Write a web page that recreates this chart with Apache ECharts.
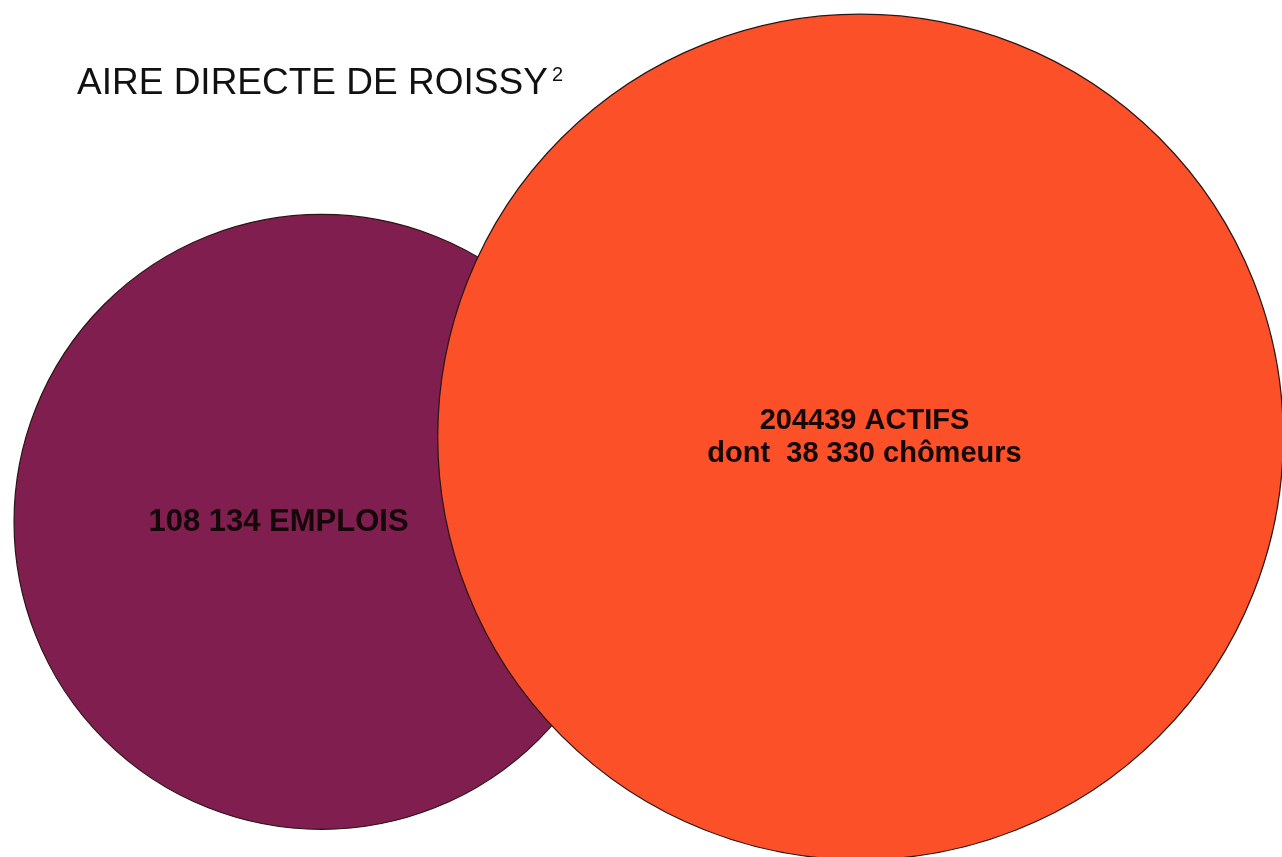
<!DOCTYPE html>
<html>
<head>
<meta charset="utf-8">
<title>Aire directe de Roissy</title>
<script src="https://cdn.jsdelivr.net/npm/echarts@6/dist/echarts.min.js"></script>
<style>
    html, body { margin: 0; padding: 0; background: #fff; }
    #circles { width: 1282px; height: 857px; }
</style>
</head>
<body>
<div id="circles"></div>
<script>
// Data
// ------------------------------

var categories = ['EMPLOIS', 'ACTIFS'];
var values = [108134, 204439];
var labels = [
    ['108 134 EMPLOIS'],
    ['204439 ACTIFS', 'dont  38 330 chômeurs']
];
var chartTitle = 'AIRE DIRECTE DE ROISSY';
var titleSup = '2';


// Layout / styles
// ------------------------------

var colors = ['#801f4f', '#fc5128'];
var radiusPerSqrt = 0.935;         // circle area proportional to value
var shiftY = [0, -85];             // vertical offset of each circle
var labelShiftX = [-43, 4];
var labelFontSize = [31, 29];


document.addEventListener('DOMContentLoaded', function() {
    var el = document.getElementById('circles');
    var chart = echarts.init(el, null, { renderer: 'canvas' });

    var seriesData = categories.map(function(c, i) {
        return [i, values[i]];
    });

    chart.setOption({
        animation: false,
        backgroundColor: '#ffffff',

        grid: {
            left: 52,
            width: 1078,
            top: 0,
            bottom: 0
        },

        xAxis: {
            type: 'category',
            data: categories,
            boundaryGap: true,
            show: false
        },
        // zero line sits at y = 522
        yAxis: {
            type: 'value',
            min: -0.642,
            max: 1,
            show: false
        },

        // Title with superscript
        graphic: [
            {
                type: 'text',
                x: 77,
                y: 65,
                z: 10,
                style: {
                    text: chartTitle,
                    font: '37px "Liberation Sans", Arial, sans-serif',
                    fill: '#111111',
                    verticalAlign: 'top'
                }
            },
            {
                type: 'text',
                x: 552,
                y: 65,
                z: 10,
                style: {
                    text: titleSup,
                    font: '20px "Liberation Sans", Arial, sans-serif',
                    fill: '#111111',
                    verticalAlign: 'top'
                }
            }
        ],

        series: [{
            type: 'custom',
            clip: false,
            data: seriesData,
            renderItem: function(params, api) {
                var i = params.dataIndex;
                var pt = api.coord([api.value(0), 0]);
                var r = radiusPerSqrt * Math.sqrt(api.value(1));
                var cx = pt[0];
                var cy = pt[1] + shiftY[i];
                return {
                    type: 'group',
                    children: [
                        {
                            type: 'circle',
                            shape: { cx: cx, cy: cy, r: r },
                            style: {
                                fill: colors[i],
                                stroke: '#2b1414',
                                lineWidth: 1.2
                            }
                        },
                        {
                            type: 'text',
                            x: cx + labelShiftX[i],
                            y: cy + 1,
                            style: {
                                text: labels[i].join('\n'),
                                font: 'bold ' + labelFontSize[i] + 'px "Liberation Sans", Arial, sans-serif',
                                fill: '#140808',
                                align: 'center',
                                verticalAlign: 'middle',
                                lineHeight: 33
                            }
                        }
                    ]
                };
            }
        }]
    });

    window.addEventListener('resize', function() {
        chart.resize();
    });
});
</script>
</body>
</html>
